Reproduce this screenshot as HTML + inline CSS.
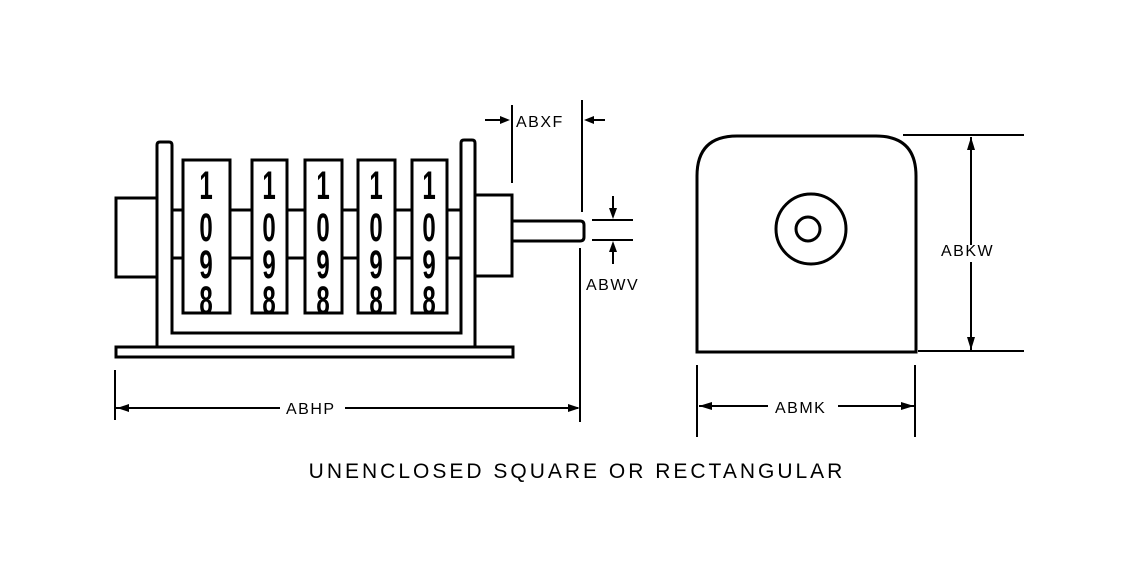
<!DOCTYPE html>
<html><head><style>
body{margin:0;background:#fff;}
svg{display:block}
text{font-family:"Liberation Sans",sans-serif;fill:#000}
</style></head><body>
<svg width="1138" height="575" viewBox="0 0 1138 575" xmlns="http://www.w3.org/2000/svg">
<defs><clipPath id="c"><rect x="0" y="0" width="1138" height="312"/></clipPath></defs>
<g fill="none" stroke="#000" stroke-width="3">
<path d="M157 198 H116 V277 H157"/>
<path d="M475 195 H512 V276 H475"/>
<rect x="116" y="347" width="397" height="10"/>
<path d="M157 347 V145 Q157 142 160 142 H169 Q172 142 172 145 V333 H461 V143 Q461 140 464 140 H472 Q475 140 475 143 V347"/>
<path d="M172 210 H183 M230 210 H252 M287 210 H305 M342 210 H358 M395 210 H412 M447 210 H461"/>
<path d="M172 258 H183 M230 258 H252 M287 258 H305 M342 258 H358 M395 258 H412 M447 258 H461"/>
<rect x="183" y="160" width="47" height="153"/>
<rect x="252" y="160" width="35" height="153"/>
<rect x="305" y="160" width="37" height="153"/>
<rect x="358" y="160" width="37" height="153"/>
<rect x="412" y="160" width="35" height="153"/>
<path d="M512 221 H580 Q584 221 584 225 V237 Q584 241 580 241 H512"/>
</g>
<g stroke="#000" stroke-width="2" fill="none">
<path d="M512 105 V183 M582 100 V212 M580 248 V422"/>
<path d="M485 120 H506 M588 120 H605"/>
<path d="M592 220 H633 M592 240 H633 M613 196 V216 M613 244 V264"/>
<path d="M115 370 V420 M116 408 H280 M345 408 H578"/>
<path d="M903 135 H1024 M918 351 H1024 M971 137 V245 M971 262 V350"/>
<path d="M697 365 V437 M915 365 V437 M699 406 H768 M838 406 H914"/>
<path d="M697 352 V176 Q697 136 737 136 H876 Q916 136 916 176 V352 Z" stroke-width="3"/>
<circle cx="811" cy="229" r="35" stroke-width="3"/>
<circle cx="808" cy="229" r="12" stroke-width="3"/>
</g>
<g fill="#000">
<path d="M510 120 L500 116 L500 124Z"/><path d="M584 120 L594 116 L594 124Z"/>
<path d="M613 219 L609 208 L617 208Z"/><path d="M613 241 L609 252 L617 252Z"/>
<path d="M117 408 L129 404 L129 412Z"/><path d="M580 408 L568 404 L568 412Z"/>
<path d="M971 137 L967 150 L975 150Z"/><path d="M971 350 L967 337 L975 337Z"/>
<path d="M699 406 L712 402 L712 410Z"/><path d="M914 406 L901 402 L901 410Z"/>
</g>
<g font-weight="bold" font-size="40" text-anchor="middle" clip-path="url(#c)">
<g transform="translate(206 0) scale(0.6 1)"><text x="0" y="199">1</text><text x="0" y="241">0</text><text x="0" y="278">9</text><text x="0" y="314">8</text></g>
<g transform="translate(269 0) scale(0.6 1)"><text x="0" y="199">1</text><text x="0" y="241">0</text><text x="0" y="278">9</text><text x="0" y="314">8</text></g>
<g transform="translate(323 0) scale(0.6 1)"><text x="0" y="199">1</text><text x="0" y="241">0</text><text x="0" y="278">9</text><text x="0" y="314">8</text></g>
<g transform="translate(376 0) scale(0.6 1)"><text x="0" y="199">1</text><text x="0" y="241">0</text><text x="0" y="278">9</text><text x="0" y="314">8</text></g>
<g transform="translate(429 0) scale(0.6 1)"><text x="0" y="199">1</text><text x="0" y="241">0</text><text x="0" y="278">9</text><text x="0" y="314">8</text></g>
</g>
<g font-size="16" letter-spacing="1.5">
<text x="516" y="127">ABXF</text>
<text x="586" y="290">ABWV</text>
<text x="286" y="414">ABHP</text>
<text x="941" y="256">ABKW</text>
<text x="775" y="413">ABMK</text>
</g>
<text x="577" y="478" font-size="21" letter-spacing="3" text-anchor="middle">UNENCLOSED SQUARE OR RECTANGULAR</text>
</svg>
</body></html>
